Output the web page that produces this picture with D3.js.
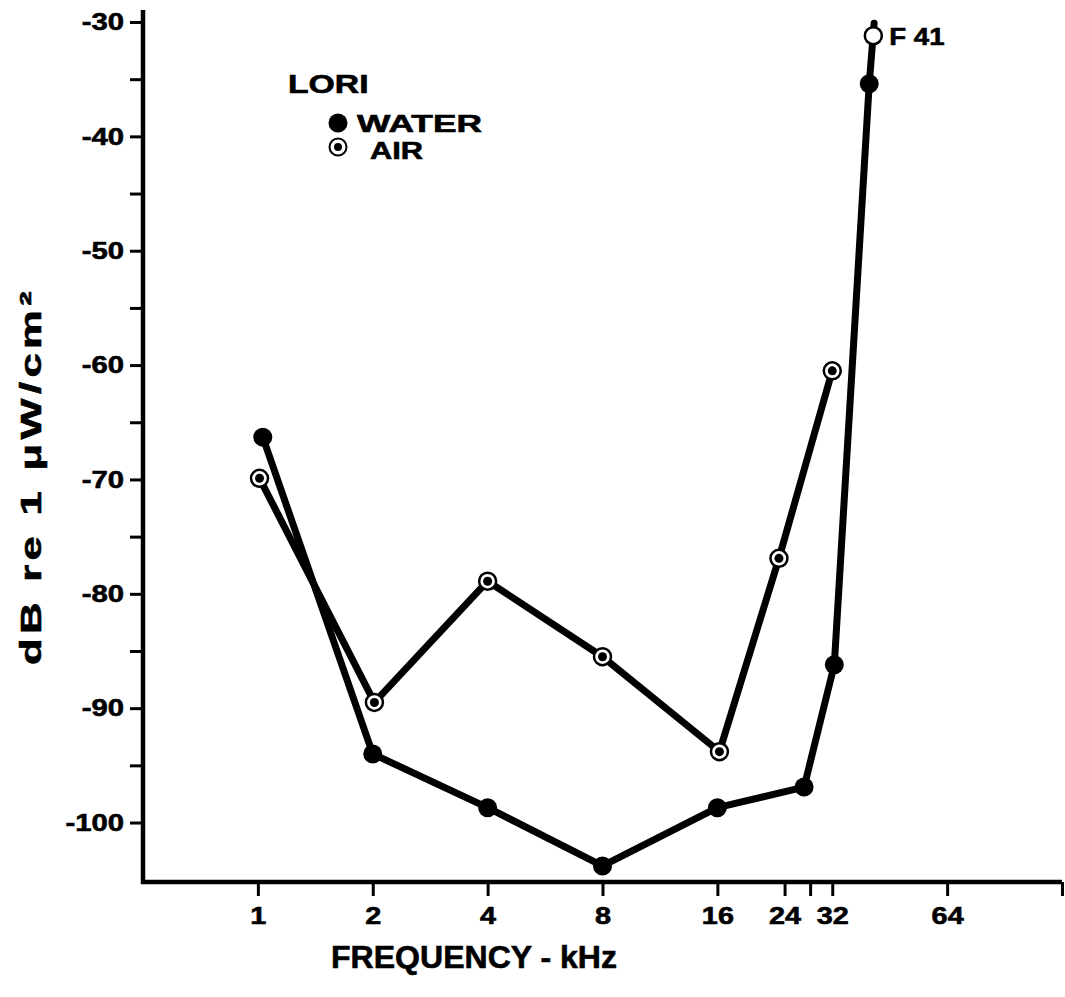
<!DOCTYPE html>
<html>
<head>
<meta charset="utf-8">
<script src="https://cdnjs.cloudflare.com/ajax/libs/d3/7.8.5/d3.min.js"></script>
<style>
  body { margin: 0; background: #fff; }
  text { font-family: "Liberation Sans", Arial, sans-serif; font-weight: bold; fill: #000;
         stroke: #000; stroke-width: 0.6px; }
</style>
</head>
<body>
<div id="chart"></div>
<script>
// values
const waterFreq = [1.03, 2, 4, 8, 16, 27, 32.4, 40];
const waterDb   = [-66.3, -94.0, -98.7, -103.8, -98.7, -96.9, -86.2, -35.4];
const waterTop  = [41.2, -30.1];          // line runs on past the last dot
const airFreq   = [1.01, 2.02, 4, 8, 16.2, 23.2, 32];
const airDb     = [-69.9, -89.5, -78.9, -85.5, -93.8, -76.9, -60.5];
const f41       = [41, -31.2];

const xTicks      = [1, 2, 4, 8, 16, 24, 28, 32, 64, 128];
const xTickLabels = ["1", "2", "4", "8", "16", "24", "", "32", "64", ""];
const yMajor      = [-30, -40, -50, -60, -70, -80, -90, -100];
const yMinor      = [-35, -45, -55, -65, -75, -85, -95];

const W = 1065, H = 997;

const svg = d3.select("#chart").append("svg")
    .attr("width", W)
    .attr("height", H);

const x = d3.scaleLog().base(2).domain([0.5, 128]).range([143, 1062]);
const y = d3.scaleLinear().domain([-28.95, -105.2]).range([10, 882]);

// widen glyphs a bit, the original lettering is extended
function stretch(sel, k) {
  sel.each(function() {
    const w = this.getComputedTextLength();
    d3.select(this).attr("textLength", w * k).attr("lengthAdjust", "spacingAndGlyphs");
  });
}

// y axis
const yAxis = svg.append("g")
    .attr("transform", `translate(${x.range()[0]},0)`)
    .call(d3.axisLeft(y).tickValues(yMajor.concat(yMinor)).tickSize(13)
      .tickFormat(d => yMajor.includes(d) ? d : ""));
yAxis.select(".domain").remove();
yAxis.selectAll(".tick line").attr("stroke", "#000").attr("stroke-width", 3);
yAxis.selectAll(".tick text")
    .attr("x", -19)
    .style("font-size", "24px")
    .call(stretch, 1.22);

// x axis
const xAxis = svg.append("g")
    .attr("transform", `translate(0,${y.range()[1]})`)
    .call(d3.axisBottom(x).tickValues(xTicks).tickSize(14)
      .tickFormat((d, i) => xTickLabels[i]));
xAxis.select(".domain").remove();
xAxis.selectAll(".tick line").attr("stroke", "#000").attr("stroke-width", 3);
xAxis.selectAll(".tick text")
    .attr("y", 25)
    .style("font-size", "24px")
    .call(stretch, 1.2);

// the two heavy axis lines
svg.append("path")
    .attr("d", `M${x.range()[0]},${y.range()[0]}V${y.range()[1]}H${x.range()[1]}`)
    .attr("fill", "none")
    .attr("stroke", "#000")
    .attr("stroke-width", 4.5);

// titles
svg.append("text")
    .attr("x", 474)
    .attr("y", 968)
    .attr("text-anchor", "middle")
    .style("font-size", "32px")
    .attr("textLength", 286)
    .attr("lengthAdjust", "spacingAndGlyphs")
    .text("FREQUENCY - kHz");

svg.append("text")
    .attr("transform", "translate(41,476) rotate(-90)")
    .attr("text-anchor", "middle")
    .style("font-size", "30px")
    .style("letter-spacing", "3px")
    .attr("textLength", 378)
    .attr("lengthAdjust", "spacingAndGlyphs")
    .text("dB re 1 \u03bcW/cm\u00b2");

// lines
const line = d3.line().x(d => x(d[0])).y(d => y(d[1]));
const water = waterFreq.map((f, i) => [f, waterDb[i]]);
const air = airFreq.map((f, i) => [f, airDb[i]]);

svg.append("path")
    .datum(air)
    .attr("d", line)
    .attr("fill", "none")
    .attr("stroke", "#000")
    .attr("stroke-width", 7)
    .attr("stroke-linejoin", "round");

svg.append("path")
    .datum(water.concat([waterTop]))
    .attr("d", line)
    .attr("fill", "none")
    .attr("stroke", "#000")
    .attr("stroke-width", 7)
    .attr("stroke-linejoin", "round")
    .attr("stroke-linecap", "round");

// markers
svg.selectAll(".water")
    .data(water)
    .enter().append("circle")
    .attr("class", "water")
    .attr("cx", d => x(d[0]))
    .attr("cy", d => y(d[1]))
    .attr("r", 9.5)
    .attr("fill", "#000");

const airDots = svg.selectAll(".air")
    .data(air)
    .enter().append("g")
    .attr("class", "air")
    .attr("transform", d => `translate(${x(d[0])},${y(d[1])})`);
airDots.append("circle")
    .attr("r", 8.5)
    .attr("fill", "#fff")
    .attr("stroke", "#000")
    .attr("stroke-width", 2.5);
airDots.append("circle")
    .attr("r", 4.5)
    .attr("fill", "#000");

// F 41 point
svg.append("circle")
    .attr("cx", x(f41[0]))
    .attr("cy", y(f41[1]))
    .attr("r", 8.5)
    .attr("fill", "#fff")
    .attr("stroke", "#000")
    .attr("stroke-width", 2.5);
svg.append("text")
    .attr("x", x(f41[0]) + 16)
    .attr("y", y(f41[1]) + 9)
    .style("font-size", "24px")
    .text("F 41")
    .call(stretch, 1.15);

// legend
const legend = svg.append("g").attr("transform", "translate(288,93)");
legend.append("text")
    .style("font-size", "25px")
    .text("LORI")
    .call(stretch, 1.35);
legend.append("circle").attr("cx", 50).attr("cy", 30).attr("r", 9.5).attr("fill", "#000");
legend.append("text")
    .attr("x", 69).attr("y", 39)
    .style("font-size", "24px")
    .attr("textLength", 125)
    .attr("lengthAdjust", "spacingAndGlyphs")
    .text("WATER");
legend.append("circle").attr("cx", 50).attr("cy", 54).attr("r", 8.5)
    .attr("fill", "#fff").attr("stroke", "#000").attr("stroke-width", 2);
legend.append("circle").attr("cx", 50).attr("cy", 54).attr("r", 4).attr("fill", "#000");
legend.append("text")
    .attr("x", 82).attr("y", 66)
    .style("font-size", "24px")
    .attr("textLength", 53)
    .attr("lengthAdjust", "spacingAndGlyphs")
    .text("AIR");
</script>
</body>
</html>
